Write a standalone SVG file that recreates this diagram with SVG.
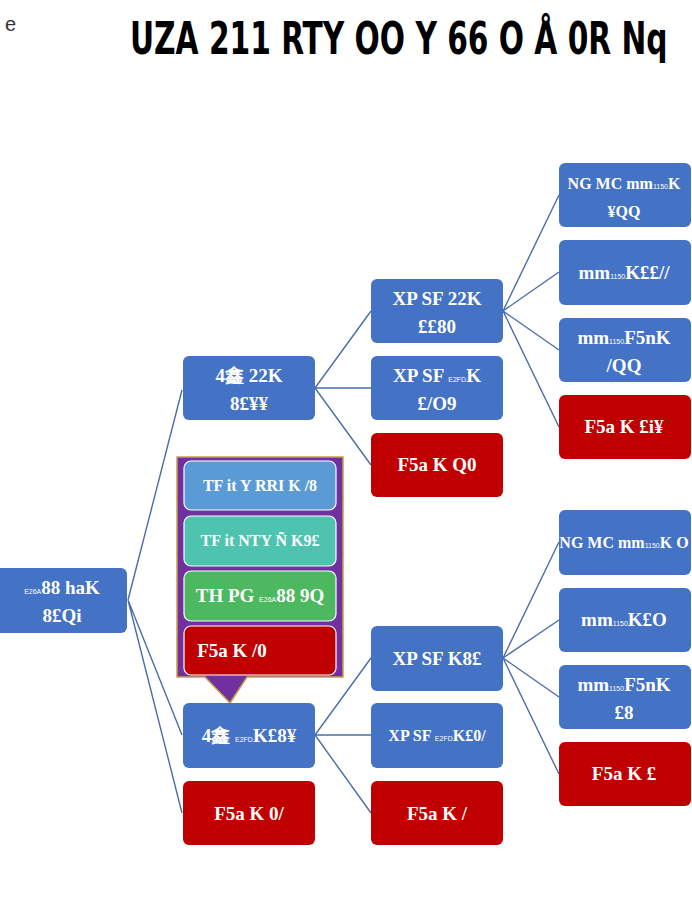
<svg xmlns="http://www.w3.org/2000/svg" width="692" height="898" viewBox="0 0 692 898">
<style>
.b{fill:#4472C4;}
.r{fill:#C00000;}
.t{fill:#fff;font-family:"Liberation Serif","DejaVu Serif",serif;font-size:19px;font-weight:bold;text-anchor:middle;}
.m{font-size:16px;}
.s{font-size:7px;font-weight:normal;font-family:"Liberation Sans",sans-serif;}
.c{stroke:#4A6DAA;stroke-width:1.4;fill:none;}
</style>
<rect width="692" height="898" fill="#fff"/>
<text x="5" y="31" font-family="Liberation Sans,sans-serif" font-size="20" fill="#333">e</text>
<text transform="translate(130,54) scale(1,1.35)" x="0" y="0" font-family="DejaVu Sans Condensed,DejaVu Sans,sans-serif" font-weight="bold" font-size="33" fill="#000">UZA 211 RTY OO Y 66 O Å 0R Nq</text>
<g id="connectors" class="c">
<path d="M128 600L182 390M128 600L182 735M128 600L182 813"/>
<path d="M315 388L371 311M315 388L371 388M315 388L371 465"/>
<path d="M315 735L371 658M315 735L371 735M315 735L371 813"/>
<path d="M503 311L559 195M503 311L559 272M503 311L559 350M503 311L559 427"/>
<path d="M503 658L559 542M503 658L559 620M503 658L559 697M503 658L559 774"/>
</g>
<g id="root"><rect class="b" x="-6" y="568" width="133" height="65" rx="6"/>
<text class="t"><tspan x="62" y="594"><tspan class="s">E26A</tspan>88 haK</tspan><tspan x="62" y="622">8£Qi</tspan></text></g>
<g id="n1a"><rect class="b" x="183" y="356" width="132" height="64" rx="6"/>
<text class="t"><tspan x="249" y="382">4鑫 22K</tspan><tspan x="249" y="410">8£¥¥</tspan></text></g>
<g id="callout">
<path d="M177 457H343V677H247L230 703L205 677H177Z" fill="#7030A0" stroke="#C9A040" stroke-width="1.5"/>
<rect x="184" y="461" width="152" height="49" rx="7" fill="#5B9BD5" stroke="#fff" stroke-width="1.2"/>
<text class="t m" x="260" y="491">TF it Y RRI K /8</text>
<rect x="184" y="516" width="152" height="50" rx="7" fill="#4EC3B0" stroke="#fff" stroke-width="1.2"/>
<text class="t m" x="260" y="546">TF it NTY Ñ K9£</text>
<rect x="184" y="571" width="152" height="50" rx="7" fill="#4CB860" stroke="#fff" stroke-width="1.2"/>
<text class="t" x="260" y="602">TH PG <tspan class="s">E26A</tspan>88 9Q</text>
<rect x="184" y="626" width="152" height="49" rx="7" fill="#C00000" stroke="#fff" stroke-width="1.2"/>
<text class="t" x="232" y="657">F5a K /0</text>
</g>
<g id="n1b"><rect class="b" x="183" y="703" width="132" height="65" rx="6"/>
<text class="t" x="249" y="742">4鑫 <tspan class="s">E2FD</tspan>K£8¥</text></g>
<g id="n1c"><rect class="r" x="183" y="781" width="132" height="64" rx="6"/>
<text class="t" x="249" y="820">F5a K 0/</text></g>
<g id="n2a"><rect class="b" x="371" y="279" width="132" height="64" rx="6"/>
<text class="t"><tspan x="437" y="305">XP SF 22K</tspan><tspan x="437" y="333">££80</tspan></text></g>
<g id="n2b"><rect class="b" x="371" y="356" width="132" height="64" rx="6"/>
<text class="t"><tspan x="437" y="382">XP SF <tspan class="s">E2FD</tspan>K</tspan><tspan x="437" y="410">£/O9</tspan></text></g>
<g id="n2c"><rect class="r" x="371" y="433" width="132" height="64" rx="6"/>
<text class="t" x="437" y="471">F5a K Q0</text></g>
<g id="n2d"><rect class="b" x="371" y="626" width="132" height="65" rx="6"/>
<text class="t" x="437" y="665">XP SF K8£</text></g>
<g id="n2e"><rect class="b" x="371" y="703" width="132" height="65" rx="6"/>
<text class="t m" x="437" y="741">XP SF <tspan class="s">E2FD</tspan>K£0/</text></g>
<g id="n2f"><rect class="r" x="371" y="781" width="132" height="64" rx="6"/>
<text class="t" x="437" y="820">F5a K /</text></g>
<g id="n3a"><rect class="b" x="559" y="163" width="132" height="64" rx="6"/>
<text class="t m"><tspan x="624" y="189">NG MC mm<tspan class="s">1150</tspan>K</tspan><tspan x="624" y="217">¥QQ</tspan></text></g>
<g id="n3b"><rect class="b" x="559" y="240" width="132" height="65" rx="6"/>
<text class="t" x="624" y="279">mm<tspan class="s">1150</tspan>K££//</text></g>
<g id="n3c"><rect class="b" x="559" y="318" width="132" height="64" rx="6"/>
<text class="t"><tspan x="624" y="344">mm<tspan class="s">1150</tspan>F5nK</tspan><tspan x="624" y="372">/QQ</tspan></text></g>
<g id="n3d"><rect class="r" x="559" y="395" width="132" height="64" rx="6"/>
<text class="t" x="624" y="433">F5a K £i¥</text></g>
<g id="n3e"><rect class="b" x="559" y="510" width="132" height="65" rx="6"/>
<text class="t m" x="624" y="548">NG MC mm<tspan class="s">1150</tspan>K O</text></g>
<g id="n3f"><rect class="b" x="559" y="588" width="132" height="64" rx="6"/>
<text class="t" x="624" y="626">mm<tspan class="s">1150</tspan>K£O</text></g>
<g id="n3g"><rect class="b" x="559" y="665" width="132" height="64" rx="6"/>
<text class="t"><tspan x="624" y="691">mm<tspan class="s">1150</tspan>F5nK</tspan><tspan x="624" y="719">£8</tspan></text></g>
<g id="n3h"><rect class="r" x="559" y="742" width="132" height="64" rx="6"/>
<text class="t" x="624" y="780">F5a K £</text></g>
</svg>
